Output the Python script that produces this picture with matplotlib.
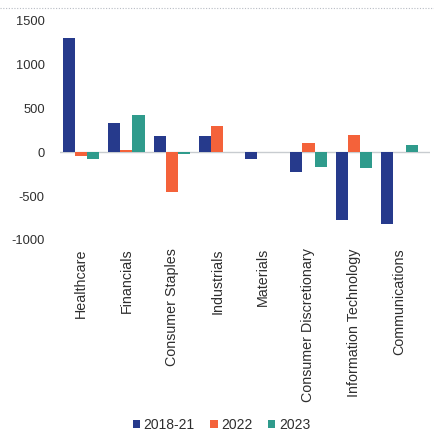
import numpy as np
import matplotlib
matplotlib.use('Agg')
import matplotlib.pyplot as plt

plt.rcParams['font.family'] = ['Liberation Sans', 'DejaVu Sans']

sectors = ['Healthcare', 'Financials', 'Consumer Staples', 'Industrials',
           'Materials', 'Consumer Discretionary', 'Information Technology',
           'Communications']
flows_2018_21 = [1300, 330, 190, 185, -75, -220, -770, -825]
flows_2022 = [-45, 25, -450, 305, 0, 110, 200, 0]
flows_2023 = [-80, 430, -20, 5, 0, -165, -175, 80]
yticks = [-1000, -500, 0, 500, 1000, 1500]

series = [('2018-21', flows_2018_21, '#263a8c'),
          ('2022', flows_2022, '#f4623a'),
          ('2023', flows_2023, '#2f9b8c')]

fig = plt.figure(figsize=(4.34, 4.36), dpi=100)
ax = fig.add_axes([60 / 434, 0.450, 370 / 434, 0.502])

x = np.arange(len(sectors))
w = 0.265
for i, (name, vals, col) in enumerate(series):
    ax.bar(x + (i - 1) * w, vals, w, color=col, label=name, zorder=2)

ax.axhline(0, color='#c8ccd0', lw=1, zorder=1)
ax.set_xlim(-0.46, 7.67)
ax.set_ylim(-1000, 1500)
ax.set_yticks(yticks)
ax.set_yticklabels([str(v) for v in yticks], fontsize=9.3, color='#2e2e2e')
ax.set_xticks(x)
ax.set_xticklabels(sectors, rotation=90, fontsize=10.3, color='#2e2e2e',
                   va='top', ha='center')
ax.tick_params(axis='y', length=0, pad=11)
ax.tick_params(axis='x', length=0, pad=6)
for s in ax.spines.values():
    s.set_visible(False)

# dotted rule under the (cropped) heading
fig.add_artist(plt.Line2D([0.0, 1.0], [1 - 8 / 436] * 2, transform=fig.transFigure,
                          color='#b8bcc4', lw=0.8, ls=(0, (1, 1.5))))

fig.legend(loc='center', bbox_to_anchor=(0.51, 1 - 425 / 436), ncol=3, frameon=False,
           fontsize=10, handlelength=0.55, handleheight=0.55, handletextpad=0.25,
           columnspacing=1.1, labelcolor='#2e2e2e')

fig.savefig('out.png', dpi=100)
